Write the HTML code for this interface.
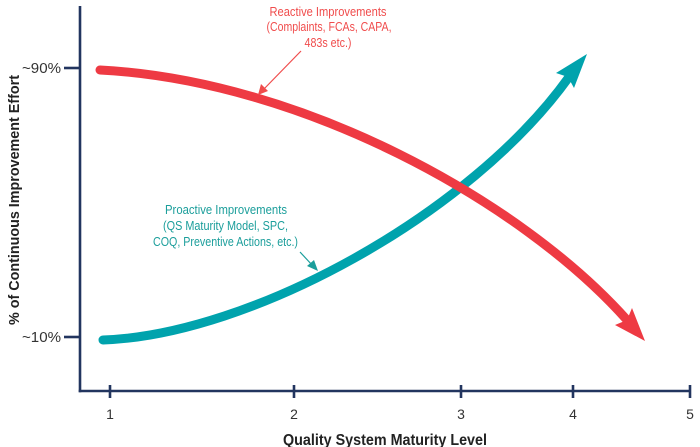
<!DOCTYPE html>
<html><head><meta charset="utf-8"><style>
html,body{margin:0;padding:0;background:#fff;}
svg{display:block;}
text{font-family:"Liberation Sans",sans-serif;}
</style></head><body>
<svg width="700" height="447" viewBox="0 0 700 447" xmlns="http://www.w3.org/2000/svg">
<!-- axes -->
<g stroke="#22355f" stroke-width="2.6" fill="none">
<line x1="80" y1="6" x2="80" y2="392.3"/>
<line x1="78.7" y1="391" x2="690" y2="391"/>
<line x1="110" y1="385" x2="110" y2="398"/>
<line x1="294" y1="385" x2="294" y2="398"/>
<line x1="461" y1="385" x2="461" y2="398"/>
<line x1="573" y1="385" x2="573" y2="398"/>
<line x1="690" y1="385" x2="690" y2="398"/>
<line x1="64" y1="68" x2="80" y2="68"/>
<line x1="64" y1="337" x2="80" y2="337"/>
</g>
<g fill="#333" font-size="14" text-anchor="middle">
<text x="110" y="419">1</text>
<text x="294" y="419">2</text>
<text x="461" y="419">3</text>
<text x="573" y="419">4</text>
<text x="690" y="419">5</text>
</g>
<g fill="#333" font-size="14.5" text-anchor="end">
<text x="61" y="73" textLength="39" lengthAdjust="spacingAndGlyphs">~90%</text>
<text x="61" y="342" textLength="39" lengthAdjust="spacingAndGlyphs">~10%</text>
</g>
<text x="385" y="445" text-anchor="middle" font-size="15.5" font-weight="bold" fill="#222" textLength="204" lengthAdjust="spacingAndGlyphs">Quality System Maturity Level</text>
<text transform="translate(19,200) rotate(-90)" text-anchor="middle" font-size="15" font-weight="bold" fill="#222" textLength="250" lengthAdjust="spacingAndGlyphs">% of Continuous Improvement Effort</text>

<!-- teal curve -->
<path d="M103,340 C250,335 470,215 569,77" stroke="#00a3ad" stroke-width="9" fill="none" stroke-linecap="round"/>
<polygon points="587,54 556,73 568,77 574,88" fill="#00a3ad"/>
<!-- red curve -->
<path d="M100,70 C300,80 520,200 627,320" stroke="#ee3a43" stroke-width="9" fill="none" stroke-linecap="round"/>
<polygon points="645,341 632,308 627,320 615,325" fill="#ee3a43"/>

<!-- reactive annotation -->
<g fill="#f04c4c" font-size="12.5" text-anchor="middle">
<text x="328" y="16" textLength="117" lengthAdjust="spacingAndGlyphs">Reactive Improvements</text>
<text x="329" y="31" textLength="125" lengthAdjust="spacingAndGlyphs">(Complaints, FCAs, CAPA,</text>
<text x="328" y="47" textLength="47" lengthAdjust="spacingAndGlyphs">483s etc.)</text>
</g>
<line x1="301" y1="51" x2="263" y2="90" stroke="#f04c4c" stroke-width="1.2"/>
<polygon points="258,95 261,84 268,91" fill="#f04c4c"/>

<!-- proactive annotation -->
<g fill="#1b9e9b" font-size="12.5" text-anchor="middle">
<text x="226" y="214" textLength="122" lengthAdjust="spacingAndGlyphs">Proactive Improvements</text>
<text x="225.5" y="230" textLength="125" lengthAdjust="spacingAndGlyphs">(QS Maturity Model, SPC,</text>
<text x="225.5" y="246" textLength="145" lengthAdjust="spacingAndGlyphs">COQ, Preventive Actions, etc.)</text>
</g>
<line x1="300" y1="252" x2="313" y2="266" stroke="#1b9e9b" stroke-width="1.2"/>
<polygon points="318,271 307,266 314,260" fill="#1b9e9b"/>
</svg>
</body></html>
